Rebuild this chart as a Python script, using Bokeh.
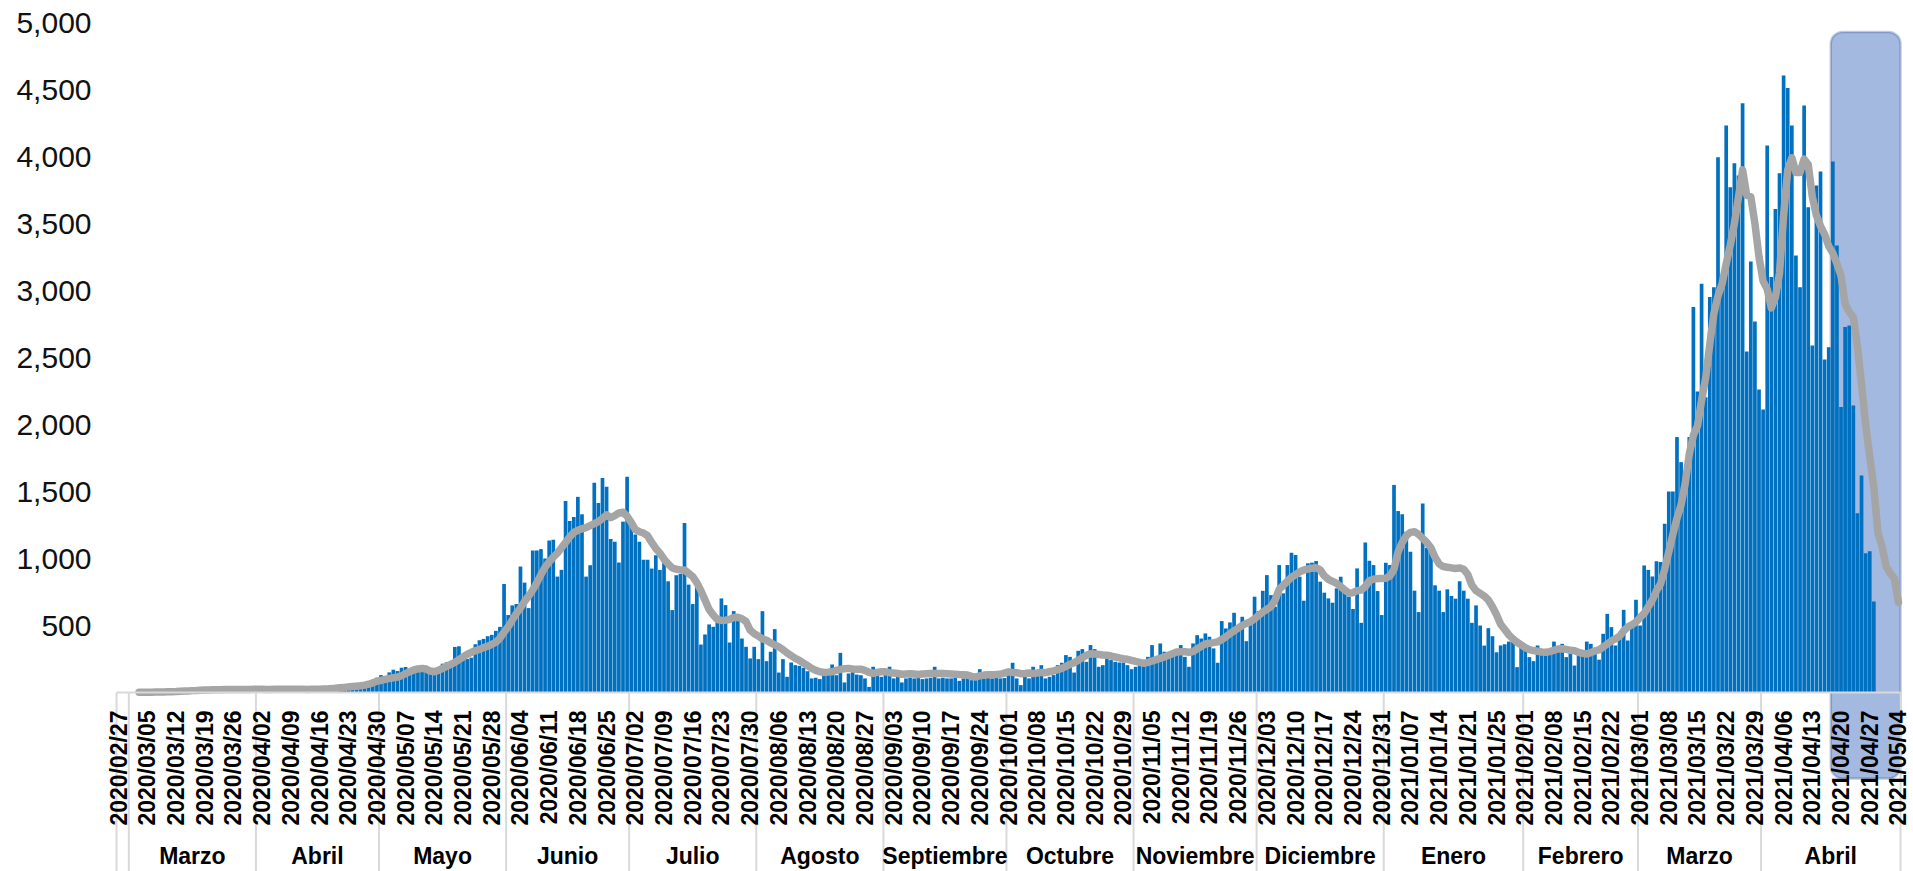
import math
import numpy as np
from bokeh.plotting import figure
from bokeh.models import Range1d, FixedTicker, NumeralTickFormatter, BoxAnnotation
from bokeh.core.properties import value
from bokeh.embed import file_html
from bokeh.resources import INLINE

# ---------------- data ----------------
# month groups under the date labels: name and number of daily categories
month_names = ["", "Marzo", "Abril", "Mayo", "Junio", "Julio", "Agosto", "Septiembre",
               "Octubre", "Noviembre", "Diciembre", "Enero", "Febrero", "Marzo", "Abril"]
month_sizes = [3, 31, 30, 31, 30, 31, 31, 30, 31, 30, 31, 34, 28, 30, 34]

# every 7th category carries a date label
tick_labels = [
    "2020/02/27", "2020/03/05", "2020/03/12", "2020/03/19", "2020/03/26",
    "2020/04/02", "2020/04/09", "2020/04/16", "2020/04/23", "2020/04/30",
    "2020/05/07", "2020/05/14", "2020/05/21", "2020/05/28",
    "2020/06/04", "2020/06/11", "2020/06/18", "2020/06/25",
    "2020/07/02", "2020/07/09", "2020/07/16", "2020/07/23", "2020/07/30",
    "2020/08/06", "2020/08/13", "2020/08/20", "2020/08/27",
    "2020/09/03", "2020/09/10", "2020/09/17", "2020/09/24",
    "2020/10/01", "2020/10/08", "2020/10/15", "2020/10/22", "2020/10/29",
    "2020/11/05", "2020/11/12", "2020/11/19", "2020/11/26",
    "2020/12/03", "2020/12/10", "2020/12/17", "2020/12/24", "2020/12/31",
    "2021/01/07", "2021/01/14", "2021/01/21", "2021/01/25",
    "2021/02/01", "2021/02/08", "2021/02/15", "2021/02/22",
    "2021/03/01", "2021/03/08", "2021/03/15", "2021/03/22", "2021/03/29",
    "2021/04/06", "2021/04/13", "2021/04/20", "2021/04/27", "2021/05/04",
]
tick_step = 7

# daily cases (bars), per month group
cases_feb20 = [1, 0, 2]
cases_mar20 = [1, 0, 2, 3, 1, 4, 3, 6, 5, 8, 10, 12, 15, 14, 18, 20, 22, 19, 25, 20,
               24, 22, 26, 21, 25, 23, 20, 24, 22, 25, 27]
cases_apr20 = [20, 25, 22, 24, 28, 21, 23, 26, 20, 25, 22, 27, 24, 21, 26, 30, 28, 32, 35, 40,
               45, 38, 50, 42, 55, 48, 60, 70, 90, 110]
cases_may20 = [130, 100, 150, 170, 160, 185, 190, 175, 185, 190, 180, 160, 150, 165, 175,
               215, 225, 220, 340, 345, 255, 250, 260, 360, 390, 400, 420, 430, 460, 490, 810]
cases_jun20 = [578, 650, 660, 940, 820, 630, 1060, 1060, 1070, 1000, 1135, 1140, 865, 915, 1430,
               1280, 1310, 1460, 1330, 865, 950, 1565, 1415, 1600, 1535, 1145, 1125, 970, 1275, 1610]
cases_jul20 = [1265, 1180, 1125, 990, 990, 925, 1025, 915, 990, 830, 615, 875, 885, 1265, 805,
               660, 805, 358, 433, 508, 490, 528, 702, 652, 373, 607, 558, 403, 341, 254, 341]
cases_aug20 = [249, 607, 234, 304, 473, 149, 249, 117, 224, 204, 199, 184, 159, 105, 110,
               100, 142, 140, 209, 129, 296, 75, 142, 192, 134, 129, 105, 42, 192, 142, 117]
cases_sep20 = [160, 192, 105, 150, 75, 105, 110, 105, 108, 100, 105, 110, 192, 105, 110,
               105, 105, 108, 87, 105, 110, 92, 105, 174, 105, 108, 105, 110, 105, 108]
cases_oct20 = [150, 222, 105, 55, 120, 105, 192, 127, 204, 105, 117, 130, 204, 222, 279,
               266, 149, 311, 324, 229, 354, 324, 192, 204, 254, 242, 229, 224, 224, 204, 174]
cases_nov20 = [192, 204, 242, 266, 354, 242, 366, 304, 291, 304, 291, 354, 266, 192, 366,
               428, 403, 441, 416, 329, 222, 533, 478, 523, 595, 490, 565, 383, 508, 715]
cases_dec20 = [608, 759, 876, 727, 640, 951, 740, 951, 1043, 1026, 864, 685, 964, 969, 981,
               827, 745, 702, 670, 777, 864, 777, 715, 623, 926, 520, 1120, 984, 951, 757, 578]
cases_jan21 = [969, 951, 1549, 1354, 1330, 1200, 1050, 760, 600, 1410, 1080, 1060, 800, 760, 600,
               770, 720, 700, 830, 760, 700, 520, 650, 500, 350, 480, 420, 300, 351, 360,
               380, 380, 189, 351]
cases_feb21 = [351, 264, 234, 351, 301, 294, 313, 380, 313, 363, 264, 331, 201, 288, 285,
               380, 363, 314, 245, 438, 587, 488, 351, 413, 617, 388, 500, 692]
cases_mar21 = [500, 948, 915, 866, 980, 973, 1259, 1500, 1500, 1906, 1719, 1607, 1906, 2876, 2246,
               3050, 2204, 2951, 3024, 3995, 3100, 4231, 3771, 3950, 3858, 4398, 2545, 3216, 2769, 2261]
cases_apr21 = [2112, 4082, 3100, 3609, 3875, 4604, 4512, 4231, 3261, 3024, 4380, 3621, 2590, 3783, 3888,
               2485, 2577, 3962, 3335, 2130, 2727, 2739, 2142, 1338, 1620, 1040, 1055, 679,
               None, None, None, None, None, None]

# moving-average line (grey), per month group
trend_feb20 = [None, None, None]
trend_mar20 = [None, None, 1, 1, 2, 2, 3, 3, 4, 5, 6, 7, 9, 11, 12, 14, 15, 17, 18, 19,
               20, 21, 21, 22, 22, 23, 23, 23, 23, 23, 24]
trend_apr20 = [24, 24, 23, 23, 24, 24, 24, 24, 24, 24, 24, 24, 23, 24, 25, 25, 26, 27, 29, 32,
               35, 38, 41, 44, 47, 50, 55, 62, 72, 85]
trend_may20 = [90, 98, 105, 110, 115, 125, 140, 155, 168, 176, 180, 175, 160, 155, 165,
               180, 195, 210, 225, 245, 265, 285, 300, 312, 322, 335, 345, 360, 375, 405, 450]
trend_jun20 = [490, 540, 590, 630, 680, 720, 765, 820, 880, 935, 975, 1010, 1040, 1080, 1120,
               1160, 1195, 1210, 1222, 1230, 1245, 1260, 1275, 1300, 1325, 1305, 1320, 1340, 1345, 1315]
trend_jul20 = [1270, 1215, 1200, 1190, 1170, 1120, 1075, 1040, 995, 960, 930, 920, 915, 914, 890,
               865, 820, 760, 690, 620, 578, 545, 538, 540, 545, 560, 562, 550, 530, 465, 440]
trend_aug20 = [420, 400, 390, 370, 355, 340, 320, 295, 275, 255, 240, 220, 200, 180, 165,
               155, 150, 152, 155, 165, 172, 178, 180, 176, 174, 174, 165, 150, 142, 150, 155]
trend_sep20 = [154, 148, 145, 142, 136, 138, 140, 138, 135, 138, 140, 141, 142, 142, 141,
               140, 138, 136, 134, 133, 130, 120, 115, 125, 130, 132, 133, 134, 136, 145]
trend_oct20 = [154, 150, 148, 140, 142, 145, 142, 145, 150, 148, 155, 162, 170, 180, 195,
               210, 222, 240, 260, 278, 290, 288, 284, 280, 278, 272, 265, 258, 252, 248, 240]
trend_nov20 = [232, 225, 218, 225, 235, 245, 255, 265, 278, 290, 302, 305, 304, 300, 305,
               325, 345, 362, 368, 372, 378, 395, 415, 440, 460, 480, 500, 515, 528, 550]
trend_dec20 = [575, 600, 620, 640, 690, 770, 800, 830, 860, 880, 900, 914, 922, 928, 931,
               915, 870, 845, 830, 814, 790, 765, 742, 745, 760, 765, 790, 835, 845, 850, 850]
trend_jan21 = [852, 870, 920, 1050, 1120, 1170, 1195, 1200, 1180, 1150, 1120, 1080, 1010, 960, 940,
               935, 930, 925, 930, 920, 880, 800, 760, 740, 720, 690, 640, 580, 510, 470,
               430, 400, 375, 355]
trend_feb21 = [335, 320, 313, 308, 302, 300, 305, 315, 325, 326, 322, 315, 312, 300, 292,
               288, 298, 310, 318, 340, 362, 385, 400, 420, 460, 488, 505, 525]
trend_mar21 = [560, 590, 640, 690, 760, 811, 920, 1050, 1180, 1300, 1400, 1560, 1780, 1920, 1990,
               2180, 2350, 2600, 2830, 2960, 3050, 3200, 3340, 3500, 3700, 3900, 3710, 3700, 3500, 3250]
trend_apr21 = [3070, 3010, 2870, 2950, 3130, 3560, 3900, 3990, 3880, 3880, 3980, 3940, 3700, 3560, 3480,
               3420, 3330, 3280, 3200, 3110, 2900, 2840, 2800, 2580, 2300, 2000, 1760, 1530, 1190, 1090,
               940, 890, 850, 674]

y_ticks = [500, 1000, 1500, 2000, 2500, 3000, 3500, 4000, 4500, 5000]

# highlighted stretch at the end of the series (category indices)
highlight_first = 418
highlight_top = 4930

# ---------------- assemble ----------------
cases = (cases_feb20 + cases_mar20 + cases_apr20 + cases_may20 + cases_jun20 + cases_jul20 +
         cases_aug20 + cases_sep20 + cases_oct20 + cases_nov20 + cases_dec20 + cases_jan21 +
         cases_feb21 + cases_mar21 + cases_apr21)
trend = (trend_feb20 + trend_mar20 + trend_apr20 + trend_may20 + trend_jun20 + trend_jul20 +
         trend_aug20 + trend_sep20 + trend_oct20 + trend_nov20 + trend_dec20 + trend_jan21 +
         trend_feb21 + trend_mar21 + trend_apr21)
N = sum(month_sizes)
assert len(cases) == N, len(cases)
assert len(trend) == N, len(trend)
assert (len(tick_labels) - 1) * tick_step == N - 1

idx = np.arange(N)
cases_arr = np.array([np.nan if v is None else v for v in cases], dtype=float)
trend_arr = np.array([np.nan if v is None else v for v in trend], dtype=float)

# ---------------- layout (page has no margin with Bokeh's template) ----------------
W, H = 1913, 871
CAT_LEFT_PX = 116.0        # left edge of the first category
CAT_RIGHT_PX = 1900.0      # right edge of the last category
FRAME_LEFT = 100           # frame begins a bit left so the first label is not clipped
px_per_cat = (CAT_RIGHT_PX - CAT_LEFT_PX) / N
x_start = -0.5 - (CAT_LEFT_PX - FRAME_LEFT) / px_per_cat
x_end = x_start + (W - FRAME_LEFT) / px_per_cat

BASE_PX = 692              # pixel row of value 0
units_per_px = 5000 / 670.0
y_end = BASE_PX * units_per_px
y_start = -(H - BASE_PX) * units_per_px

p = figure(width=W, height=H, x_range=Range1d(x_start, x_end), y_range=Range1d(y_start, y_end),
           x_axis_location=None, toolbar_location=None, output_backend="svg",
           min_border_left=FRAME_LEFT, min_border_right=0, min_border_top=0, min_border_bottom=0)
p.outline_line_color = None
p.grid.visible = False
p.background_fill_color = "white"
p.border_fill_color = "white"

ax = p.yaxis[0]
ax.ticker = FixedTicker(ticks=y_ticks)
ax.formatter = NumeralTickFormatter(format="0,0")
ax.axis_line_color = None
ax.major_tick_line_color = None
ax.minor_tick_line_color = None
ax.major_tick_out = 0
ax.major_tick_in = 0
ax.major_label_standoff = 9
ax.major_label_text_font = "Liberation Sans"
ax.major_label_text_font_size = "30px"
ax.major_label_text_color = "#111111"

# highlight box (behind the bars)
box = BoxAnnotation(left=highlight_first - 0.5, right=N - 0.5,
                    top=highlight_top, bottom=-86 * units_per_px,
                    fill_color="#A3B9E0", fill_alpha=1.0,
                    line_color="#2F5496", line_width=2.5,
                    border_radius=12, level="underlay")
p.add_layout(box)

# bars
p.vbar(x=idx, top=cases_arr, width=0.9, fill_color="#0070C0", line_color=None)

# moving average line
p.line(x=idx, y=trend_arr, line_color="#A5A5A5", line_width=7.5,
       line_join="round", line_cap="round")

# category axis: baseline, group separators
bounds = [-0.5]
for s in month_sizes:
    bounds.append(bounds[-1] + s)
p.segment(x0=[-0.5], y0=[0], x1=[N - 0.5], y1=[0], line_color="#D9D9D9", line_width=2)
p.segment(x0=bounds, y0=[0] * len(bounds), x1=bounds, y1=[y_start] * len(bounds),
          line_color="#D9D9D9", line_width=2)

# date labels (rotated)
tick_pos = [i * tick_step for i in range(len(tick_labels))]
p.text(x=tick_pos, y=[-18 * units_per_px] * len(tick_pos), text=tick_labels,
       angle=math.pi / 2, text_align="right", text_baseline="middle",
       text_font=value("Liberation Sans"), text_font_size="23px",
       text_font_style="bold", text_color="#000000")

# month group labels
centers = [(bounds[i] + bounds[i + 1]) / 2 for i in range(len(month_sizes))]
p.text(x=centers, y=[-163 * units_per_px] * len(centers), text=month_names,
       text_align="center", text_baseline="middle",
       text_font=value("Liberation Sans"), text_font_size="23px",
       text_font_style="bold", text_color="#000000")

open("out.html", "w").write(file_html(p, INLINE))
